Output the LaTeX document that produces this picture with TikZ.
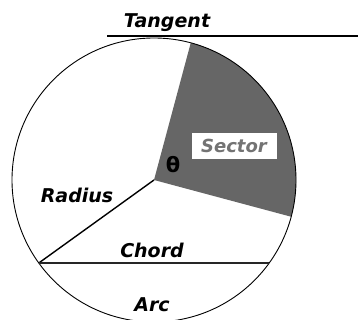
\documentclass[tikz,border=0pt]{standalone}
\usepackage{fontspec}
\setmainfont{DejaVu Sans}
\usetikzlibrary{calc}
\begin{document}
\begin{tikzpicture}[x=1pt,y=1pt,
  lbl/.style={font=\bfseries\itshape\fontsize{19}{19}\selectfont, inner sep=0pt, text=black},
  sectorfill/.style={fill=black!60},
  thin line/.style={draw=black, line width=0.9pt}]
\useasboundingbox (0,0) rectangle (358,320);
\coordinate (O) at (154,140);
\def\R{142}
% sector
\coordinate (S1) at ($(O)+(75:\R)$);
\coordinate (S2) at ($(O)+(-15:\R)$);
\fill[sectorfill] (O) -- (S1) arc[start angle=75, end angle=-15, radius=\R] -- cycle;
% circle
\draw[thin line] (O) circle[radius=\R];
% chord endpoints
\coordinate (C1) at (38.8,57);
\coordinate (C2) at (269.2,57);
% radius
\draw[line width=1.4pt] (O) -- (C1);
% chord
\draw[line width=2.2pt, draw=black!85] (C1) -- (C2);
% tangent
\coordinate (T1) at (107,284);
\coordinate (T2) at (358,284);
\draw[line width=2.2pt] (T1) -- (T2);
% labels
\node[lbl] (tangent) at (167,297) {Tangent};
\node[minimum width=85pt, minimum height=26pt, fill=white, inner sep=0pt] (sectorbox) at (234,174) {};
\node[lbl, text=black!55, font=\bfseries\itshape\fontsize{18}{18}\selectfont] (sector) at (sectorbox) {Sector};
\node[font=\bfseries\fontsize{21}{21}\selectfont, inner sep=0pt] (theta) at (173,155) {θ};
\node[lbl] (radius) at (77,125) {Radius};
\node[lbl] (chord) at (152,70) {Chord};
\node[lbl] (arc) at (152,15) {Arc};
\end{tikzpicture}
\end{document}
